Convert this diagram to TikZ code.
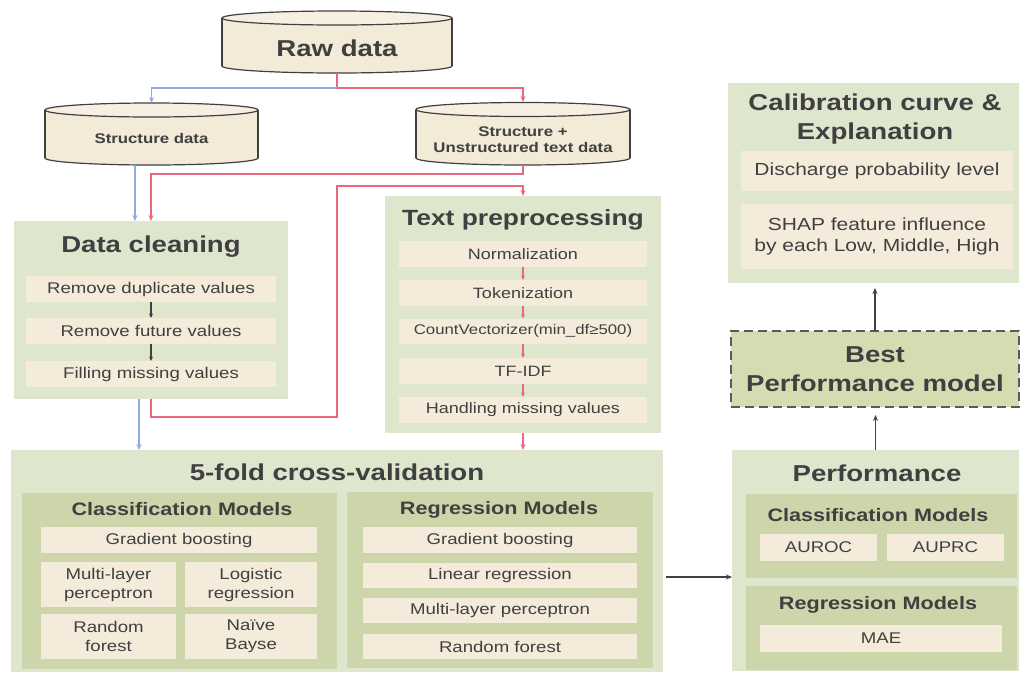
\documentclass[tikz,border=0pt]{standalone}
\usepackage{fontspec}
\setmainfont{Liberation Sans}[FakeStretch=1.2]
\usetikzlibrary{arrows.meta}
\definecolor{txt}{HTML}{404040}
\definecolor{lgreen}{HTML}{DFE6CE}
\definecolor{dgreen}{HTML}{CDD5AA}
\definecolor{beige}{HTML}{F4EBDA}
\definecolor{bestfill}{HTML}{D6DCB2}
\definecolor{cylfill}{HTML}{F3EAD7}
\definecolor{cyltop}{HTML}{F6EFE2}
\definecolor{cylline}{HTML}{404040}
\definecolor{lblue}{HTML}{8FAADC}
\definecolor{lred}{HTML}{E8687F}
\definecolor{dashc}{HTML}{5A5A5A}
\newcommand{\mycyl}[5]{%
  \filldraw[fill=cylfill, draw=cylline, line width=1.2pt] ({(#1+#2)/2},#4) ellipse [x radius={(#2-#1)/2}, y radius=#5];
  \fill[cylfill] (#1,#3) rectangle (#2,#4);
  \draw[cylline, line width=1.2pt] (#1,#3) -- (#1,#4) (#2,#3) -- (#2,#4);
  \filldraw[fill=cyltop, draw=cylline, line width=1.2pt] ({(#1+#2)/2},#3) ellipse [x radius={(#2-#1)/2}, y radius=#5];
}
\tikzset{
  every node/.style={text=txt, inner sep=0pt, outer sep=0pt, align=center},
  outerbox/.style={fill=lgreen, draw=none},
  innerbox/.style={fill=dgreen, draw=none},
  itembox/.style={fill=beige, draw=none, font=\fontsize{15.5}{19}\selectfont},
  bigtitle/.style={font=\fontsize{23}{28.5}\selectfont\bfseries},
  subtitle/.style={font=\fontsize{18}{22}\selectfont\bfseries},
  cyltext/.style={font=\fontsize{14}{16}\selectfont\bfseries},
  tip/.style={-{Stealth[length=6pt,width=5pt]}},
  bluearrow/.style={tip, draw=lblue, line width=1.4pt},
  redarrow/.style={tip, draw=lred, line width=1.4pt},
  darkarrow/.style={tip, draw=txt, line width=1.4pt},
  smallred/.style={-{Stealth[length=4.5pt,width=4pt]}, draw=lred, line width=1.4pt},
  smalldark/.style={-{Stealth[length=4.5pt,width=4pt]}, draw=txt, line width=1.4pt},
}
\begin{document}
\begin{tikzpicture}[x=1pt,y=-1pt]
\useasboundingbox (0,0) rectangle (1022,673);
\fill[white] (0,0) rectangle (1022,673);

% ---------- cylinders ----------
\mycyl{222}{452}{18}{66}{7}
\mycyl{45}{258}{110}{158}{7}
\mycyl{416}{630}{109.5}{158}{7}
\node[minimum width=230, minimum height=62] (raw) at (337,42) {};
\node[bigtitle] (rawtxt) at (337,48) {Raw data};
\node[minimum width=213, minimum height=62] (sd) at (151.5,134) {};
\node[cyltext] (sdtxt) at (151.5,138) {Structure data};
\node[minimum width=214, minimum height=63] (sut) at (523,133.5) {};
\node[cyltext] (suttxt) at (523,140) {Structure +\\Unstructured text data};

% ---------- Data cleaning ----------
\node[outerbox, minimum width=274, minimum height=178] (dc) at (151,310) {};
\node[bigtitle] (dct) at (151,247) {Data cleaning};
\node[itembox, minimum width=250, minimum height=26] (r1) at (151,289) {Remove duplicate values};
\node[itembox, minimum width=250, minimum height=26] (r2) at (151,331) {Remove future values};
\node[itembox, minimum width=250, minimum height=26] (r3) at (151,374) {Filling missing values};
\draw[smalldark] (r1) -- (r2);
\draw[smalldark] (r2) -- (r3);

% ---------- Text preprocessing ----------
\node[outerbox, minimum width=276, minimum height=237] (tp) at (523,314.5) {};
\node[bigtitle, font=\fontsize{22}{26}\selectfont\bfseries] (tpt) at (523,220) {Text preprocessing};
\node[itembox, minimum width=248, minimum height=26, font=\fontsize{15}{18}\selectfont] (t1) at (523,254) {Normalization};
\node[itembox, minimum width=248, minimum height=26, font=\fontsize{15}{18}\selectfont] (t2) at (523,293) {Tokenization};
\node[itembox, minimum width=248, minimum height=25, font=\fontsize{14}{17}\selectfont] (t3) at (523,331) {CountVectorizer(min\_df≥500)};
\node[itembox, minimum width=248, minimum height=26, font=\fontsize{15}{18}\selectfont] (t4) at (523,371) {TF-IDF};
\node[itembox, minimum width=248, minimum height=26, font=\fontsize{15}{18}\selectfont] (t5) at (523,410) {Handling missing values};
\draw[smallred] (t1) -- (t2);
\draw[smallred] (t2) -- (t3);
\draw[smallred] (t3) -- (t4);
\draw[smallred] (t4) -- (t5);

% ---------- 5-fold cross-validation ----------
\node[outerbox, minimum width=652, minimum height=222] (cv) at (337,561) {};
\node[bigtitle] (cvt) at (337,472) {5-fold cross-validation};
\node[innerbox, minimum width=315, minimum height=176] (cls) at (179.5,581) {};
\node[subtitle] (clst) at (182,509) {Classification Models};
\node[itembox, minimum width=276, minimum height=26] (c1) at (179,540) {Gradient boosting};
\node[itembox, minimum width=135, minimum height=45] (c2) at (108.5,584.5) {Multi-layer\\perceptron};
\node[itembox, minimum width=132, minimum height=45] (c3) at (251,584.5) {Logistic\\regression};
\node[itembox, minimum width=135, minimum height=45] (c4) at (108.5,636.5) {Random\\forest};
\node[itembox, minimum width=132, minimum height=45] (c5) at (251,636.5) {Naïve\\Bayse};
\node[innerbox, minimum width=306, minimum height=176] (reg) at (500,580) {};
\node[subtitle] (regt) at (499,510) {Regression Models};
\node[itembox, minimum width=274, minimum height=26] (g1) at (500,540) {Gradient boosting};
\node[itembox, minimum width=274, minimum height=25] (g2) at (500,575.5) {Linear regression};
\node[itembox, minimum width=274, minimum height=25] (g3) at (500,610.5) {Multi-layer perceptron};
\node[itembox, minimum width=274, minimum height=25] (g4) at (500,646.5) {Random forest};

% ---------- Calibration ----------
\node[outerbox, minimum width=291, minimum height=200] (cal) at (873.5,183) {};
\node[bigtitle] (calt) at (875,119) {Calibration curve \&\\Explanation};
\node[itembox, minimum width=272, minimum height=40, font=\fontsize{17.5}{21}\selectfont] (cal1) at (877,171) {Discharge probability level};
\node[itembox, minimum width=272, minimum height=65, font=\fontsize{17.5}{21}\selectfont] (cal2) at (877,236.5) {SHAP feature influence\\by each Low, Middle, High};

% ---------- Best model ----------
\node[fill=bestfill, draw=dashc, line width=2.2pt, dash pattern=on 9pt off 5pt, minimum width=288, minimum height=76, bigtitle] (best) at (875,369) {Best\\Performance model};

% ---------- Performance ----------
\node[outerbox, minimum width=287, minimum height=221] (perf) at (875.5,560.5) {};
\node[bigtitle] (perft) at (877,473) {Performance};
\node[innerbox, minimum width=271, minimum height=84] (pc) at (881.5,536) {};
\node[subtitle] (pct) at (878,515) {Classification Models};
\node[itembox, minimum width=117, minimum height=27] (auroc) at (818.5,547.5) {AUROC};
\node[itembox, minimum width=117, minimum height=27] (auprc) at (945.5,547.5) {AUPRC};
\node[innerbox, minimum width=271, minimum height=84] (pr) at (881.5,628) {};
\node[subtitle] (prt) at (878,605) {Regression Models};
\node[itembox, minimum width=242, minimum height=27] (mae) at (881,638.5) {MAE};

% ---------- connectors ----------
\coordinate (split) at (337,88);
\coordinate (bend) at (337,186);
\draw[redarrow] (raw.south) -- (split) -| (sut.north);
\draw[bluearrow] (split) -| (sd.north);
\draw[bluearrow] ([xshift=-16.5pt]sd.south) -- ([xshift=-16.5pt]sd.south |- dc.north);
\draw[redarrow] (sut.south) -- ++(0,9) -| (dc.north);
\draw[redarrow] (dc.south) -- ++(0,18) -| (bend) -| (tp.north);
\draw[bluearrow] ([xshift=-12pt]dc.south) -- ([xshift=-12pt]dc.south |- cv.north);
\draw[redarrow] (tp.south) -- (tp.south |- cv.north);
\draw[darkarrow, line width=1.2pt] ([xshift=3pt,yshift=-16pt]cv.east) -- ([yshift=-16pt]cv.east -| perf.west);
\draw[darkarrow, line width=1.2pt, shorten >=8pt] (perf.north) -- (perf.north |- best.south);
\draw[darkarrow, line width=1.2pt, shorten >=5pt] (best.north) -- (best.north |- cal.south);
\end{tikzpicture}
\end{document}
